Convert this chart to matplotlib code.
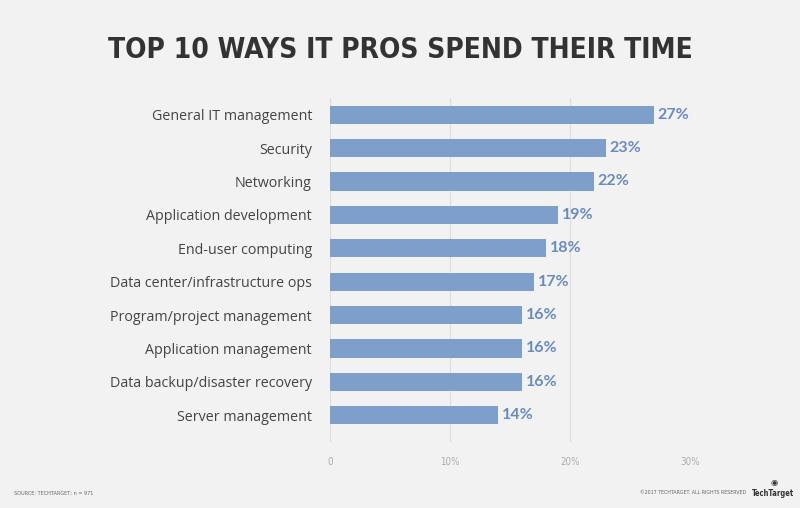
import matplotlib
matplotlib.use("Agg")
import matplotlib.pyplot as plt

categories = [
    "General IT management",
    "Security",
    "Networking",
    "Application development",
    "End-user computing",
    "Data center/infrastructure ops",
    "Program/project management",
    "Application management",
    "Data backup/disaster recovery",
    "Server management",
]
values = [27, 23, 22, 19, 18, 17, 16, 16, 16, 14]
xticks = [0, 10, 20, 30]
xtick_labels = ["0", "10%", "20%", "30%"]

bg = "#f2f2f2"
bar_color = "#7f9fcb"
label_color = "#6a8bbd"

fig = plt.figure(figsize=(8, 5.08), dpi=100, facecolor=bg)
# axes: x 330..690 px, y 98..442 px
ax = fig.add_axes([330 / 800, 1 - 442 / 508, 360 / 800, 344 / 508])
ax.set_facecolor(bg)

pos = list(range(len(categories)))
ax.barh(pos, values, height=0.54, color=bar_color, zorder=3)
ax.set_xlim(0, 30)
ax.set_ylim(9.8, -0.5)

for p, v in zip(pos, values):
    ax.text(v + 0.3, p, f"{v}%", va="center", ha="left",
            fontsize=11.5, fontweight="bold", color=label_color,
            family="Lato")

ax.set_yticks(pos)
ax.set_yticklabels(categories, fontsize=10.3, color="#444444", family="Open Sans")
ax.tick_params(axis="y", length=0, pad=13)
ax.set_xticks(xticks)
ax.set_xticklabels(xtick_labels, fontsize=7, color="#aaaaaa",
                   family="DejaVu Sans", fontstretch="condensed")
ax.tick_params(axis="x", length=0, pad=11)
ax.grid(axis="x", color="#dddddd", linewidth=0.8, zorder=0)
for s in ax.spines.values():
    s.set_visible(False)

fig.text(0.5, 1 - 50 / 508, "TOP 10 WAYS IT PROS SPEND THEIR TIME",
         ha="center", va="center", fontsize=20.2, fontweight="bold",
         color="#333333", family="DejaVu Sans", fontstretch="condensed")

fig.text(14 / 800, 1 - 493 / 508, "SOURCE: TECHTARGET; n = 971",
         ha="left", va="center", fontsize=4, color="#666666",
         family="DejaVu Sans", fontstretch="condensed")
fig.text(746 / 800, 1 - 493 / 508, "©2017 TECHTARGET. ALL RIGHTS RESERVED",
         ha="right", va="center", fontsize=3.8, color="#666666",
         family="DejaVu Sans", fontstretch="condensed")
fig.text(773 / 800, 1 - 493 / 508, "TechTarget", ha="center", va="center",
         fontsize=5.5, fontweight="bold", color="#333333",
         family="DejaVu Sans", fontstretch="condensed")
fig.text(774 / 800, 1 - 483 / 508, "◉", ha="center", va="center",
         fontsize=6, color="#333333")

fig.savefig("out.png", dpi=100, facecolor=bg)
